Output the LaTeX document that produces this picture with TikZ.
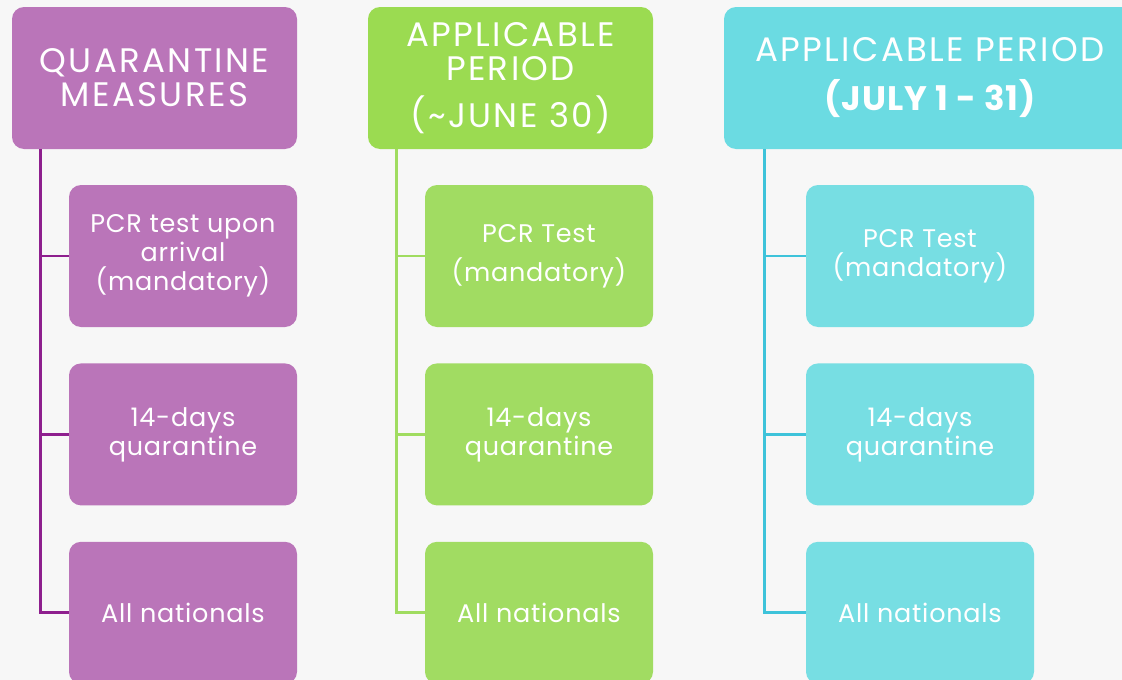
\documentclass[tikz,border=0pt]{standalone}
\usepackage{fontspec}
\setmainfont{Poppins}
\usetikzlibrary{positioning}

\definecolor{roxo}{HTML}{BA75B9}
\definecolor{roxolinha}{HTML}{8E1F8E}
\definecolor{verde}{HTML}{9BDB51}
\definecolor{verdecaixa}{HTML}{A1DC62}
\definecolor{verdelinha}{HTML}{A0DC60}
\definecolor{ciano}{HTML}{6BDBE2}
\definecolor{cianocaixa}{HTML}{77DEE3}
\definecolor{cianolinha}{HTML}{3EC3DA}
\definecolor{fundo}{HTML}{F7F7F7}

\begin{document}
\begin{tikzpicture}[x=1pt, y=1pt, node distance=36pt,
   titulo/.style={rounded corners=12pt, text=white, align=center, minimum height=142pt, inner sep=0pt, font=\fontsize{34}{34}\selectfont\addfontfeatures{LetterSpace=7}},
   caixa/.style={rounded corners=12pt, text=white, align=center, minimum width=228pt, minimum height=142pt, inner sep=0pt, font=\fontsize{25.5}{29}\selectfont\addfontfeatures{LetterSpace=3}},
   ligacao/.style={line width=2.8pt}]
   \fill[fundo] (0,0) rectangle (1122,-680);
   \useasboundingbox (0,0) rectangle (1122,-680);

   % Cabeçalhos
   \node[titulo, fill=roxo, minimum width=285pt] (quarentena) at (154.5,-78) {QUARANTINE\\MEASURES};
   \node[titulo, fill=verde, minimum width=285pt] (junho) at (510.5,-78) {APPLICABLE\\PERIOD\\[13pt](\textasciitilde JUNE 30)};
   \node[titulo, fill=ciano, minimum width=412pt] (julho) at (930,-78) {APPLICABLE PERIOD\\[15pt]{\bfseries\addfontfeatures{LetterSpace=3}(JULY 1 - 31)}};

   % Caixas
   \node[caixa, fill=roxo] (pcrroxo) at (183,-256) {PCR test upon\\arrival\\(mandatory)};
   \node[caixa, fill=roxo, below=of pcrroxo] (quarroxo) {14-days\\quarantine};
   \node[caixa, fill=roxo, below=of quarroxo] (todosroxo) {All nationals};

   \node[caixa, fill=verdecaixa] (pcrverde) at (539,-256) {PCR Test\\[10pt](mandatory)};
   \node[caixa, fill=verdecaixa, below=of pcrverde] (quarverde) {14-days\\quarantine};
   \node[caixa, fill=verdecaixa, below=of quarverde] (todosverde) {All nationals};

   \node[caixa, fill=cianocaixa] (pcrciano) at (920,-256) {PCR Test\\(mandatory)};
   \node[caixa, fill=cianocaixa, below=of pcrciano] (quarciano) {14-days\\quarantine};
   \node[caixa, fill=cianocaixa, below=of quarciano] (todosciano) {All nationals};

   % Ligações
   \coordinate (troxo) at ([xshift=29pt]quarentena.south west);
   \coordinate (tverde) at ([xshift=29pt]junho.south west);
   \coordinate (tciano) at ([xshift=41pt]julho.south west);
   \draw[ligacao, roxolinha] (troxo) |- (pcrroxo.west) (troxo) |- (quarroxo.west) (troxo) |- (todosroxo.west);
   \draw[ligacao, verdelinha] (tverde) |- (pcrverde.west) (tverde) |- (quarverde.west) (tverde) |- (todosverde.west);
   \draw[ligacao, cianolinha] (tciano) |- (pcrciano.west) (tciano) |- (quarciano.west) (tciano) |- (todosciano.west);
\end{tikzpicture}
\end{document}
